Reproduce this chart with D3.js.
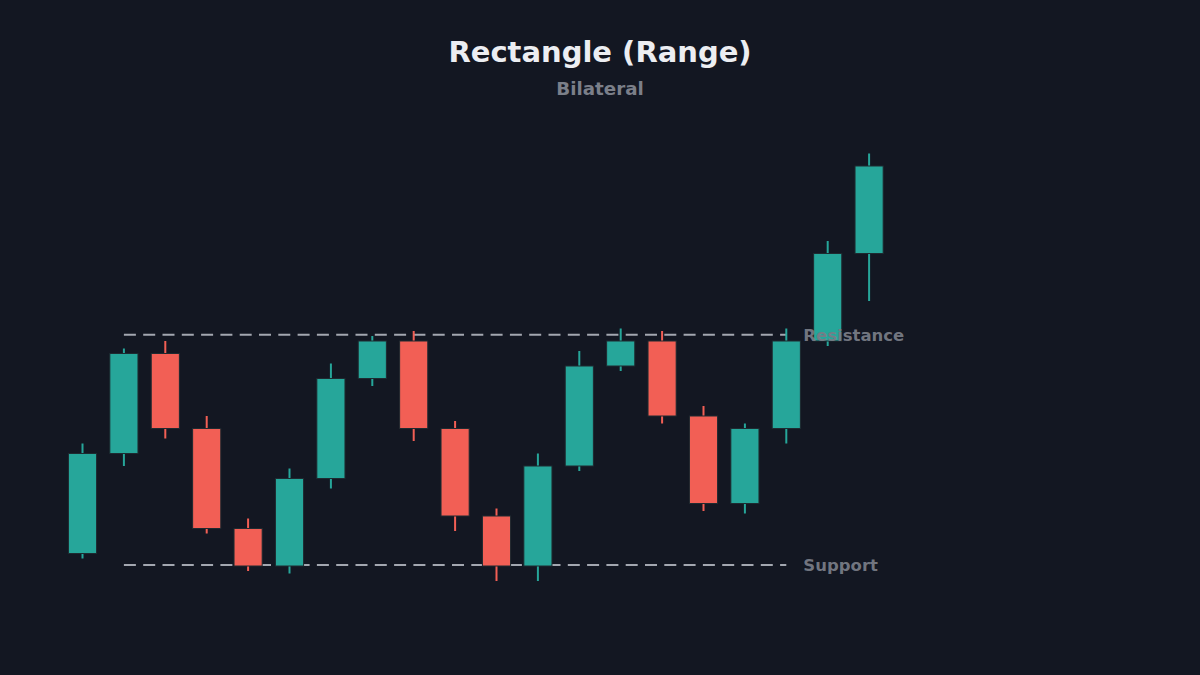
<!DOCTYPE html>
<html>
<head>
<meta charset="utf-8">
<script src="https://cdn.jsdelivr.net/npm/d3@7"></script>
<style>
  html, body { margin: 0; padding: 0; background: #131722; }
  svg { display: block; }
</style>
</head>
<body>
<svg id="chart" width="1200" height="675"></svg>
<script>
// ---- data ----
const candleIndex = d3.range(1, 21);
const opens  = [100.5, 104.5, 108.5, 105.5, 101.5, 100.0, 103.5, 107.5, 109.0, 105.5, 102.0, 100.0, 104.0, 108.0, 109.0, 106.0, 102.5, 105.5, 109.0, 112.5];
const closes = [104.5, 108.5, 105.5, 101.5, 100.0, 103.5, 107.5, 109.0, 105.5, 102.0, 100.0, 104.0, 108.0, 109.0, 106.0, 102.5, 105.5, 109.0, 112.5, 116.0];
const highs  = [104.9, 108.7, 109.0, 106.0, 101.9, 103.9, 108.1, 109.2, 109.4, 105.8, 102.3, 104.5, 108.6, 109.5, 109.4, 106.4, 105.7, 109.5, 113.0, 116.5];
const lows   = [100.3, 104.0, 105.1, 101.3,  99.8,  99.7, 103.1, 107.2, 105.0, 101.4,  99.4,  99.4, 103.8, 107.8, 105.7, 102.2, 102.1, 104.9, 108.8, 110.6];
const levelNames  = ["Resistance", "Support"];
const levelValues = [109.25, 100.04];
const levelStart = 2, levelEnd = 18;   // candle indices spanned by the level lines
const titleText = "Rectangle (Range)";
const subtitleText = "Bilateral";

const candles = candleIndex.map((c, i) => ({ c, o: opens[i], cl: closes[i], h: highs[i], l: lows[i] }));

// ---- scales ----
const svg = d3.select("#chart");
const x = d3.scaleBand().domain(candleIndex).range([61.8, 889.8]).paddingInner(0.32).paddingOuter(0.16);
const y = d3.scaleLinear().domain([100, 116]).range([566, 166]);

const UP = "#26a69a", DOWN = "#f25f55";

// title
svg.append("text").attr("x", 600).attr("y", 62).attr("text-anchor", "middle")
  .attr("font-family", "DejaVu Sans, sans-serif").attr("font-weight", "bold")
  .attr("font-size", 29).attr("fill", "#eceef2").text(titleText);
svg.append("text").attr("x", 600).attr("y", 95).attr("text-anchor", "middle")
  .attr("font-family", "DejaVu Sans, sans-serif").attr("font-weight", "bold")
  .attr("font-size", 18.3).attr("fill", "#7b7f89").text(subtitleText);

// level lines
const xs = x(levelStart) + x.bandwidth() / 2;
const xe = x(levelEnd) + x.bandwidth() / 2;
svg.append("g").selectAll("line").data(levelValues).join("line")
  .attr("x1", xs).attr("x2", xe)
  .attr("y1", d => y(d)).attr("y2", d => y(d))
  .attr("stroke", "#a3a7b0").attr("stroke-width", 2)
  .attr("stroke-dasharray", "12,7.3");

// candles
const g = svg.append("g");
const cg = g.selectAll("g").data(candles).join("g");
cg.append("line")
  .attr("x1", d => x(d.c) + x.bandwidth() / 2).attr("x2", d => x(d.c) + x.bandwidth() / 2)
  .attr("y1", d => y(d.h)).attr("y2", d => y(d.l))
  .attr("stroke", d => d.cl >= d.o ? UP : DOWN).attr("stroke-width", 2);
cg.append("rect")
  .attr("x", d => x(d.c)).attr("width", x.bandwidth())
  .attr("y", d => y(Math.max(d.o, d.cl)))
  .attr("height", d => Math.abs(y(d.o) - y(d.cl)))
  .attr("fill", d => d.cl >= d.o ? UP : DOWN)
  .attr("stroke", "#1e2a30").attr("stroke-width", 1);

// level labels
svg.append("g").selectAll("text").data(levelValues).join("text")
  .attr("x", xe + 17).attr("y", d => y(d)).attr("dy", "0.35em")
  .attr("font-family", "DejaVu Sans, sans-serif").attr("font-weight", "bold")
  .attr("font-size", 16.5).attr("fill", "#787c86").attr("fill-opacity", 0.95)
  .text((d, i) => levelNames[i]);
</script>
</body>
</html>
